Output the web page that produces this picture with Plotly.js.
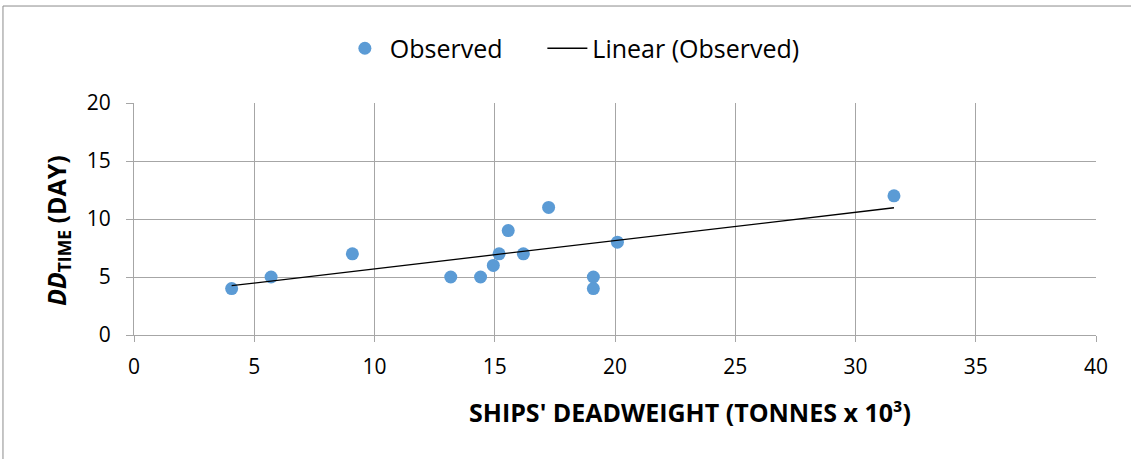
<!DOCTYPE html>
<html>
<head>
<meta charset="utf-8">
<script src="https://cdn.plot.ly/plotly-3.0.1.min.js"></script>
<style>html,body{margin:0;padding:0;background:#fff;}#chart{width:1131px;height:459px;}</style>
</head>
<body>
<div id="chart"></div>
<script>
const deadweight = [4.06, 5.70, 9.08, 13.17, 14.41, 14.94, 15.18, 15.56, 16.19, 17.24, 19.10, 19.10, 20.10, 31.60];
const ddTime     = [4, 5, 7, 5, 5, 6, 7, 9, 7, 11, 5, 4, 8, 12];
const trendX = [4.06, 31.6];
const trendY = [4.25, 10.97];
const xTicks = [0, 5, 10, 15, 20, 25, 30, 35, 40];
const yTicks = [0, 5, 10, 15, 20];
const xTitle = "<b>SHIPS' DEADWEIGHT (TONNES x 10³)</b>";
const yTitle = "<b><i>DD</i><sub>TIME</sub> (DAY)</b>";

const font = '"Open Sans", Lato, sans-serif';
const gridColor = '#a6a6a6';

const traces = [
  {x: deadweight, y: ddTime, type: 'scatter', mode: 'markers', name: 'Observed',
   marker: {color: '#5b9bd5', size: 13}, legend: 'legend'},
  {x: trendX, y: trendY, type: 'scatter', mode: 'lines', name: 'Linear (Observed)',
   line: {color: '#000000', width: 1.3}, legend: 'legend2'}
];

const legendFont = {family: font, size: 25, color: '#000'};

const layout = {
  width: 1131, height: 459,
  margin: {l: 134, r: 35, t: 103, b: 124, autoexpand: false},
  paper_bgcolor: '#ffffff', plot_bgcolor: '#ffffff',
  font: {family: font, size: 20, color: '#000'},
  showlegend: true,
  legend: {orientation: 'h', x: 0.214, xanchor: 'left', y: 1.235, yanchor: 'middle',
           bgcolor: 'rgba(0,0,0,0)', font: legendFont, itemwidth: 40},
  legend2: {orientation: 'h', x: 0.4245, xanchor: 'left', y: 1.235, yanchor: 'middle',
           bgcolor: 'rgba(0,0,0,0)', font: legendFont, itemwidth: 40},
  xaxis: {range: [0, 40], tickvals: xTicks, ticktext: xTicks.map(String),
          showgrid: true, gridcolor: gridColor, gridwidth: 1, zeroline: false,
          showline: true, linecolor: gridColor, linewidth: 1, mirror: false,
          ticks: 'outside', ticklen: 6, tickcolor: gridColor, tickwidth: 1,
          ticklabelstandoff: 7,
          tickfont: {family: font, size: 21, color: '#000'}},
  yaxis: {range: [0, 20], tickvals: yTicks, ticktext: yTicks.map(String),
          showgrid: true, gridcolor: gridColor, gridwidth: 1, zeroline: false,
          showline: true, linecolor: gridColor, linewidth: 1,
          ticks: 'outside', ticklen: 7, tickcolor: gridColor, tickwidth: 1,
          ticklabelstandoff: 11,
          tickfont: {family: font, size: 21, color: '#000'}},
  annotations: [
    {text: xTitle, xref: 'paper', yref: 'paper', x: 0.578, y: -0.332, xanchor: 'center', yanchor: 'middle',
     showarrow: false, font: {family: font, size: 25, color: '#000'}},
    {text: yTitle, xref: 'paper', yref: 'paper', x: -0.0795, y: 0.45, xanchor: 'center', yanchor: 'middle',
     textangle: -90, showarrow: false, font: {family: font, size: 25, color: '#000'}}
  ],
  shapes: [
    {type: 'rect', xref: 'paper', yref: 'paper', x0: -0.1362, x1: 1.05, y0: -0.56, y1: 1.418,
     line: {color: '#8c8c8c', width: 1}, fillcolor: 'rgba(0,0,0,0)', layer: 'below'}
  ]
};

Plotly.newPlot('chart', traces, layout, {displayModeBar: false, staticPlot: true});
</script>
</body>
</html>
